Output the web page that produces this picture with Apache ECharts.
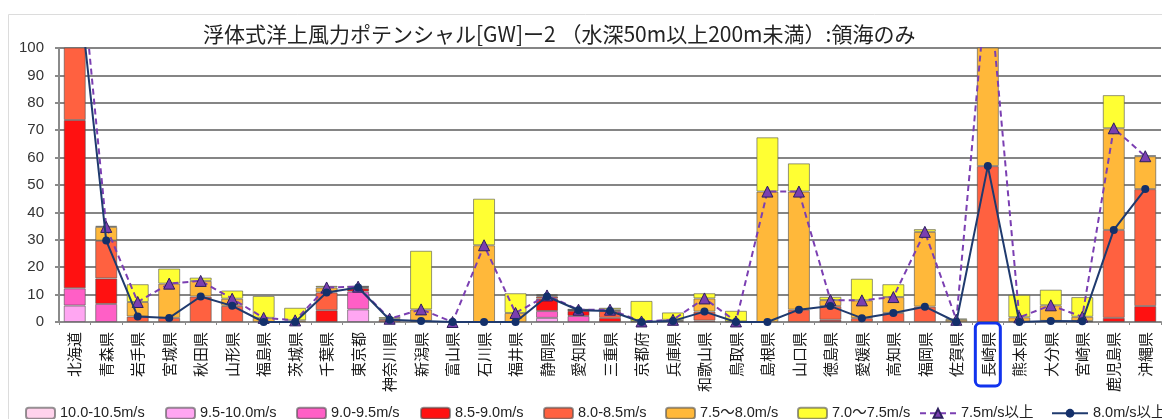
<!DOCTYPE html>
<html>
<head>
<meta charset="utf-8">
<script src="https://cdn.jsdelivr.net/npm/echarts@6/dist/echarts.min.js"></script>
<style>
  html, body { margin: 0; padding: 0; background: #ffffff; }
  #chart { width: 1162px; height: 419px; }
</style>
</head>
<body>
<div id="chart"></div>
<script>
// Prefectures (territorial sea only), west-to-east order as listed
const categories = ['北海道','青森県','岩手県','宮城県','秋田県','山形県','福島県','茨城県','千葉県','東京都',
  '神奈川県','新潟県','富山県','石川県','福井県','静岡県','愛知県','三重県','京都府','兵庫県',
  '和歌山県','鳥取県','島根県','山口県','徳島県','愛媛県','高知県','福岡県','佐賀県','長崎県',
  '熊本県','大分県','宮崎県','鹿児島県','沖縄県'];

// Potential [GW] by mean wind-speed band
const band10_0 = [0,0,0,0,0,0,0,0,0,0, 0,0,0,0,0,0,0,0,0,0, 0,0,0,0,0,0,0,0,0,0, 0,0,0,0,0];
const band9_5  = [6.0,0,0,0,0,0,0,0,0,4.6, 0,0,0,0,0,1.5,0,0,0,0, 0,0,0,0,0,0,0,0,0,0, 0,0,0,0,0];
const band9_0  = [6.3,6.6,0,0,0,0,0,0,0,6.5, 0,0,0,0,0,2.5,2.2,0,0,0, 0,0,0,0,0,0,0,0,0,0, 0,0,0,0,0];
const band8_5  = [61.4,9.3,0,0,0,0,0,0,4.3,1.2, 0,0,0,0,0,4.5,1.9,1.5,0,0, 0.5,0,0,0,0.8,0,0,0,0,0, 0,0,0,1.5,5.8];
const band8_0  = [62.5,13.8,2.0,1.5,9.3,5.9,0,0,6.5,0.3, 0.8,0.4,0,0,0,0.8,0.2,2.5,0,0.4, 3.3,0,0,4.5,5.0,1.4,3.3,5.6,0,56.9, 0,0.4,0.3,32.1,42.7];
const band7_5  = [18.0,5.0,5.3,12.5,5.7,2.6,1.5,0.6,1.8,0.3, 0.4,4.2,0,28.0,3.3,0.4,0.2,0.5,0.2,0.4, 4.8,0.2,47.6,43.1,2.2,6.5,5.8,27.3,0.8,71.0, 1.7,5.7,1.6,37.1,12.0];
const band7_0  = [15.0,0.4,6.5,5.5,1.2,3.0,8.0,4.6,0.6,0.2, 0.6,21.4,0,17.0,7.2,0.4,0.2,0.7,7.5,2.7, 1.9,3.9,19.8,10.3,1.2,7.9,4.7,1.0,0.5,10.0, 8.2,5.7,7.2,12.1,0.3];

const yTicks = { min: 0, max: 100, interval: 10 };
const highlighted = '長崎県';

const bands = [
  { name: '10.0-10.5m/s', data: band10_0, color: '#ffd3ec' },
  { name: '9.5-10.0m/s',  data: band9_5,  color: '#ffa6f2' },
  { name: '9.0-9.5m/s',   data: band9_0,  color: '#ff5fc6' },
  { name: '8.5-9.0m/s',   data: band8_5,  color: '#ff1111' },
  { name: '8.0-8.5m/s',   data: band8_0,  color: '#ff6140' },
  { name: '7.5～8.0m/s',  data: band7_5,  color: '#ffb83a' },
  { name: '7.0～7.5m/s',  data: band7_0,  color: '#ffff33' }
];

// Cumulative totals above a wind-speed threshold
function cumulative(list) {
  return categories.map((_, i) => Math.round(list.reduce((s, a) => s + a[i], 0) * 10) / 10);
}
const above7_5 = cumulative([band10_0, band9_5, band9_0, band8_5, band8_0, band7_5]);
const above8_0 = cumulative([band10_0, band9_5, band9_0, band8_5, band8_0]);

const barSeries = bands.map(b => ({
  name: b.name,
  type: 'bar',
  stack: 'potential',
  barWidth: 22,
  data: b.data.map(v => (v === 0 ? null : v)),
  itemStyle: { color: b.color, borderColor: 'rgba(80,80,80,0.6)', borderWidth: 1 },
  emphasis: { disabled: true },
  clip: true
}));

const lineSeries = [
  {
    name: '7.5m/s以上', type: 'line', data: above7_5, z: 5, clip: true,
    symbol: 'triangle', symbolSize: 11,
    lineStyle: { color: '#7b3fb2', width: 2, type: [6, 4] },
    itemStyle: { color: '#7a3fb0', borderColor: '#2d1f5e', borderWidth: 1 }
  },
  {
    name: '8.0m/s以上', type: 'line', data: above8_0, z: 6, clip: true,
    symbol: 'circle', symbolSize: 8,
    lineStyle: { color: '#1f3a6e', width: 2 },
    itemStyle: { color: '#14306a' }
  }
];

const legendSpots = [
  ['10.0-10.5m/s', 20], ['9.5-10.0m/s', 160], ['9.0-9.5m/s', 291], ['8.5-9.0m/s', 415],
  ['8.0-8.5m/s', 538], ['7.5～8.0m/s', 660], ['7.0～7.5m/s', 792], ['7.5m/s以上', 914], ['8.0m/s以上', 1046]
];
const legends = legendSpots.map(([name, x], i) => ({
  data: [name], left: x, top: 401,
  itemWidth: i >= 7 ? 36 : 29, itemHeight: 11, itemGap: 4,
  textStyle: { fontSize: 14.5, color: '#222', fontFamily: 'Liberation Sans, "Noto Sans CJK JP", sans-serif' },
  selectedMode: false
}));

const chart = echarts.init(document.getElementById('chart'), null, { renderer: 'canvas' });
chart.setOption({
  animation: false,
  backgroundColor: '#ffffff',
  title: {
    text: '浮体式洋上風力ポテンシャル[GW]ー2 （水深50m以上200m未満）:領海のみ',
    left: 198, top: 19,
    textStyle: { fontSize: 21, fontWeight: 'normal', color: '#222', fontFamily: '"Noto Sans CJK JP", sans-serif' }
  },
  graphic: [{
    type: 'rect', left: 6, top: 12, silent: true,
    shape: { width: 1200, height: 440 },
    style: { fill: 'none', stroke: '#dcdcdc', lineWidth: 1 }
  }],
  legend: legends,
  grid: { left: 59, right: 1, top: 48, bottom: 97, containLabel: false },
  xAxis: {
    type: 'category',
    data: categories,
    boundaryGap: true,
    axisLine: { lineStyle: { color: '#8a8a8a', width: 2 } },
    axisTick: { show: true, length: 3, lineStyle: { color: '#8a8a8a' } },
    axisLabel: {
      interval: 0, rotate: 90, margin: 1,
      formatter: v => (v === highlighted ? '{hl|' + v + '}' : '{n|' + v + '}'),
      rich: {
        n: { fontSize: 15, lineHeight: 15, color: '#1a1a1a', fontFamily: '"Noto Sans CJK JP", sans-serif',
             padding: [5, 9, 5, 9], borderColor: 'rgba(0,0,0,0)', borderWidth: 3 },
        hl: { fontSize: 15, lineHeight: 15, color: '#1a1a1a', fontFamily: '"Noto Sans CJK JP", sans-serif',
              padding: [5, 9, 5, 9], borderColor: '#1133ee', borderWidth: 3, borderRadius: 5 }
      }
    }
  },
  yAxis: {
    type: 'value',
    min: yTicks.min, max: yTicks.max, interval: yTicks.interval,
    axisLine: { show: true, lineStyle: { color: '#8a8a8a', width: 2 } },
    axisTick: { show: true, length: 4, lineStyle: { color: '#8a8a8a', width: 2 } },
    axisLabel: { fontSize: 15, color: '#333', margin: 15, fontFamily: 'Liberation Sans, Arial, sans-serif' },
    splitLine: { show: true, lineStyle: { color: '#858585', width: 2 } }
  },
  series: barSeries.concat(lineSeries)
});
</script>
</body>
</html>
